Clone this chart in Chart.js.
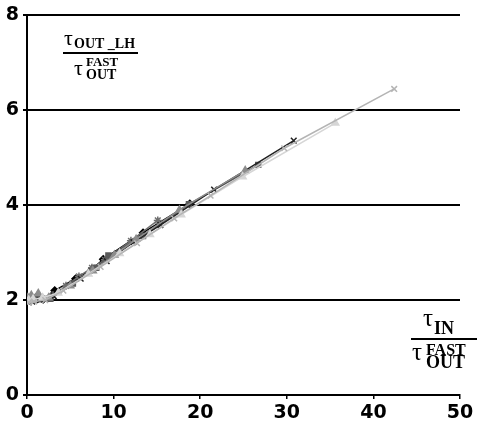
<!DOCTYPE html>
<html>
<head>
<meta charset="utf-8">
<script src="https://cdn.jsdelivr.net/npm/chart.js@4/dist/chart.umd.min.js"></script>
<style>
  html, body { margin: 0; padding: 0; background: #fff; }
  #wrap { width: 478px; height: 430px; position: relative; }
</style>
</head>
<body>
<div id="wrap"><canvas id="chart"></canvas></div>
<script>
// values (x = tau_in / tau_out_fast, y = tau_out_lh / tau_out_fast)
const xTicks = [0, 10, 20, 30, 40, 50];
const yTicks = [0, 2, 4, 6, 8];

const s1x = [0.1, 0.4, 1.0, 1.9, 3.2, 5.6, 7.5, 8.8, 13.4, 18.8];
const s1y = [2.0, 2.04, 2.05, 2.02, 2.2, 2.45, 2.65, 2.86, 3.42, 4.03];

const s2x = [0.15, 0.5, 1.3, 2.7, 5.3, 8.0, 9.4, 13.4, 18.7, 26.7];
const s2y = [2.0, 2.0, 2.02, 2.03, 2.35, 2.68, 2.94, 3.35, 4.02, 4.85];

const s3x = [0.1, 0.5, 1.3, 2.5, 5.0, 7.6, 10.1, 12.6, 17.6, 25.2];
const s3y = [2.05, 2.1, 2.14, 2.05, 2.3, 2.62, 2.95, 3.28, 3.9, 4.73];

const s4x = [0.2, 0.6, 1.5, 3.1, 6.2, 9.2, 12.3, 15.4, 21.6, 30.8];
const s4y = [1.95, 1.97, 2.0, 2.08, 2.45, 2.82, 3.22, 3.58, 4.33, 5.36];

const s5x = [0.2, 0.7, 1.8, 3.6, 7.1, 10.7, 14.2, 17.8, 24.9, 35.6];
const s5y = [2.0, 2.02, 2.05, 2.15, 2.55, 2.98, 3.38, 3.8, 4.6, 5.73];

const s6x = [0.2, 0.8, 2.1, 4.2, 8.5, 12.7, 17.0, 21.2, 29.7, 42.4];
const s6y = [1.95, 1.97, 2.0, 2.2, 2.7, 3.2, 3.72, 4.2, 5.2, 6.45];

const s7x = [0.3, 0.9, 1.5, 3.0, 4.5, 6.0, 7.5, 9.0, 12.0, 15.1];
const s7y = [2.0, 2.03, 2.05, 2.1, 2.3, 2.5, 2.68, 2.85, 3.25, 3.68];

function pts(xs, ys) {
  return xs.map((x, i) => ({ x: x, y: ys[i] }));
}

function series(xs, ys, color, style, radius) {
  return {
    data: pts(xs, ys),
    borderColor: color,
    backgroundColor: color,
    pointBorderColor: color,
    pointBackgroundColor: color,
    pointStyle: style,
    pointRadius: radius,
    pointBorderWidth: 1.5,
    borderWidth: 1.5,
    tension: 0,
    fill: false
  };
}

// fraction labels drawn on the canvas
const labelsPlugin = {
  id: 'fracLabels',
  afterDraw(chart) {
    const c = chart.ctx;
    c.save();
    c.fillStyle = '#000';
    c.textBaseline = 'alphabetic';
    c.textAlign = 'left';

    // top-left: tau_OUT_LH / tau_OUT^FAST
    c.font = '22px "Liberation Serif"';
    c.fillText('\u03c4', 64, 45);
    c.font = 'bold 14px "Liberation Serif"';
    c.fillText('OUT _LH', 74, 48);
    c.fillRect(63, 52, 75, 2);
    c.font = '22px "Liberation Serif"';
    c.fillText('\u03c4', 74, 75);
    c.font = 'bold 13px "Liberation Serif"';
    c.fillText('FAST', 86, 66);
    c.font = 'bold 14px "Liberation Serif"';
    c.fillText('OUT', 86, 79);

    // bottom-right: tau_IN / tau_OUT^FAST
    c.font = '25px "Liberation Serif"';
    c.fillText('\u03c4', 423, 326);
    c.font = 'bold 18px "Liberation Serif"';
    c.fillText('IN', 434, 334);
    c.fillRect(411, 338, 66, 2);
    c.font = '25px "Liberation Serif"';
    c.fillText('\u03c4', 412, 360);
    c.font = 'bold 16px "Liberation Serif"';
    c.fillText('FAST', 426, 355);
    c.font = 'bold 18px "Liberation Serif"';
    c.fillText('OUT', 426, 368);
    c.restore();
  }
};

const tickFont = { family: '"DejaVu Sans"', size: 19, weight: 'bold' };

const ctx = document.getElementById('chart').getContext('2d');
new Chart(ctx, {
  type: 'line',
  data: {
    datasets: [
      series(s6x, s6y, '#b4b4b4', 'crossRot', 4),
      series(s5x, s5y, '#d6d6d6', 'triangle', 4),
      series(s3x, s3y, '#8c8c8c', 'triangle', 4),
      series(s4x, s4y, '#222222', 'crossRot', 4),
      series(s2x, s2y, '#5a5a5a', 'rect', 3.5),
      series(s7x, s7y, '#6e6e6e', 'star', 4),
      series(s1x, s1y, '#000000', 'rectRot', 3.5)
    ]
  },
  options: {
    responsive: true,
    maintainAspectRatio: false,
    animation: false,
    layout: { padding: { left: 0, right: 18, top: 14, bottom: 0 } },
    plugins: {
      legend: { display: false },
      tooltip: { enabled: false }
    },
    scales: {
      x: {
        type: 'linear',
        min: 0,
        max: 50,
        afterBuildTicks: (s) => { s.ticks = xTicks.map(v => ({ value: v })); },
        afterFit: (s) => { s.height = 35; },
        border: { color: '#000', width: 2 },
        grid: { drawOnChartArea: false, color: '#000', tickLength: 4, lineWidth: 1.5 },
        ticks: {
          color: '#000',
          padding: 3,
          maxRotation: 0,
          font: tickFont
        }
      },
      y: {
        min: 0,
        max: 8,
        afterBuildTicks: (s) => { s.ticks = yTicks.map(v => ({ value: v })); },
        afterFit: (s) => { s.width = 27; },
        border: { color: '#000', width: 2 },
        grid: { color: '#000', lineWidth: 2, tickLength: 4 },
        ticks: {
          color: '#000',
          padding: 4,
          font: tickFont
        }
      }
    }
  },
  plugins: [labelsPlugin]
});
</script>
</body>
</html>
